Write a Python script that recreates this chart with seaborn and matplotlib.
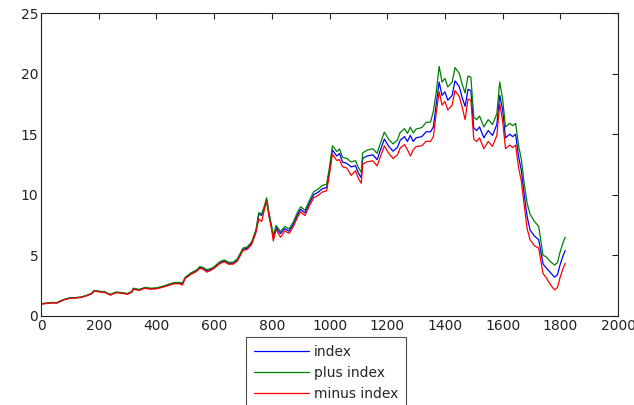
import matplotlib
matplotlib.use("Agg")
import matplotlib.pyplot as plt
import seaborn as sns
import pandas as pd

x_vals = [0, 20, 40, 55, 60, 80, 100, 120, 140, 160, 175, 185, 200, 220, 240, 250, 260, 280, 300,
          315, 320, 340, 360, 380, 400, 420, 440, 460, 480, 490, 500, 520, 540, 550, 560, 575, 590,
          600, 620, 635, 650, 665, 680, 700, 715, 730, 745, 755, 765, 775, 782, 790, 800, 805, 815,
          830, 845, 860, 875, 890, 900, 915, 930, 945, 960, 975, 990, 1000, 1010, 1025, 1035, 1045,
          1060, 1075, 1090, 1100, 1110, 1115, 1130, 1150, 1165, 1175, 1190, 1205, 1220, 1235, 1245,
          1260, 1270, 1280, 1290, 1300, 1320, 1335, 1350, 1360, 1370, 1380, 1390, 1400, 1410, 1425,
          1435, 1450, 1460, 1470, 1480, 1490, 1500, 1510, 1520, 1535, 1550, 1565, 1580, 1590, 1600,
          1610, 1625, 1635, 1645, 1655, 1665, 1675, 1685, 1695, 1710, 1725, 1740, 1750, 1765, 1780,
          1790, 1800, 1810, 1817]

index_vals = [1.00, 1.05, 1.10, 1.08, 1.15, 1.35, 1.48, 1.50, 1.55, 1.70, 1.85, 2.08, 2.02, 1.98, 1.75,
              1.85, 1.95, 1.90, 1.82, 2.00, 2.25, 2.15, 2.32, 2.25, 2.28, 2.40, 2.55, 2.70, 2.72, 2.65,
              3.15, 3.50, 3.75, 4.00, 3.95, 3.75, 3.85, 4.00, 4.40, 4.55, 4.35, 4.35, 4.60, 5.50, 5.60,
              6.00, 7.00, 8.40, 8.30, 9.00, 9.60, 8.40, 7.20, 6.50, 7.30, 6.80, 7.20, 7.00, 7.60, 8.40,
              8.80, 8.50, 9.30, 10.00, 10.20, 10.50, 10.60, 12.00, 13.70, 13.20, 13.40, 12.70, 12.60,
              12.30, 12.40, 11.80, 11.40, 13.00, 13.20, 13.30, 12.90, 13.60, 14.60, 14.00, 13.60, 13.90,
              14.50, 14.80, 14.40, 14.90, 14.40, 14.70, 14.80, 15.20, 15.20, 15.60, 17.50, 19.30, 18.20,
              18.50, 17.80, 18.20, 19.40, 18.90, 18.00, 17.30, 18.70, 18.60, 15.50, 15.30, 15.60, 14.70,
              15.30, 14.90, 15.80, 18.20, 17.00, 14.70, 15.00, 14.80, 15.00, 13.20, 12.00, 10.00, 8.20,
              7.10, 6.60, 6.30, 4.30, 4.00, 3.60, 3.20, 3.40, 4.30, 5.00, 5.40]

plus_vals = [1.02, 1.07, 1.12, 1.10, 1.17, 1.37, 1.50, 1.52, 1.57, 1.72, 1.88, 2.11, 2.05, 2.01, 1.78,
             1.88, 1.98, 1.93, 1.85, 2.04, 2.29, 2.19, 2.36, 2.29, 2.32, 2.44, 2.60, 2.75, 2.77, 2.70,
             3.20, 3.56, 3.81, 4.07, 4.02, 3.82, 3.92, 4.07, 4.48, 4.63, 4.43, 4.43, 4.69, 5.60, 5.70,
             6.11, 7.12, 8.53, 8.43, 9.14, 9.75, 8.55, 7.36, 6.66, 7.47, 6.97, 7.38, 7.18, 7.79, 8.60,
             9.01, 8.72, 9.53, 10.25, 10.46, 10.77, 10.88, 12.30, 14.05, 13.57, 13.78, 13.09, 13.00,
             12.71, 12.82, 12.24, 11.85, 13.46, 13.68, 13.80, 13.42, 14.14, 15.17, 14.58, 14.20, 14.52,
             15.14, 15.46, 15.07, 15.58, 15.10, 15.42, 15.55, 15.98, 16.00, 16.90, 18.50, 20.60, 19.30,
             19.60, 18.90, 19.30, 20.50, 20.00, 19.10, 18.40, 19.80, 19.70, 16.40, 16.20, 16.50, 15.60,
             16.20, 15.80, 16.70, 19.30, 17.90, 15.60, 15.90, 15.70, 15.90, 14.10, 12.90, 10.90, 9.30,
             8.40, 7.80, 7.40, 5.00, 4.90, 4.50, 4.20, 4.40, 5.35, 6.10, 6.50]

minus_vals = [0.98, 1.03, 1.08, 1.06, 1.13, 1.33, 1.46, 1.48, 1.53, 1.68, 1.82, 2.05, 1.99, 1.95, 1.72,
              1.82, 1.92, 1.87, 1.79, 1.96, 2.21, 2.11, 2.28, 2.21, 2.24, 2.36, 2.50, 2.65, 2.67, 2.55,
              3.10, 3.44, 3.69, 3.93, 3.88, 3.62, 3.78, 3.93, 4.32, 4.47, 4.27, 4.27, 4.51, 5.40, 5.50,
              5.89, 6.88, 8.00, 7.80, 8.86, 9.45, 8.25, 7.04, 6.20, 7.13, 6.50, 7.02, 6.82, 7.41, 8.20,
              8.59, 8.28, 9.07, 9.75, 9.94, 10.23, 10.32, 11.70, 13.35, 12.83, 12.90, 12.31, 12.20,
              11.60, 11.98, 11.36, 10.95, 12.54, 12.72, 12.80, 12.38, 13.06, 14.03, 13.42, 13.00, 13.28,
              13.86, 14.14, 13.73, 13.20, 13.70, 13.98, 14.05, 14.42, 14.40, 14.80, 16.80, 18.50, 17.40,
              17.70, 17.00, 17.40, 18.60, 18.10, 17.20, 16.20, 17.90, 17.80, 14.60, 14.40, 14.70, 13.80,
              14.40, 14.00, 14.90, 17.50, 16.10, 13.80, 14.10, 13.90, 14.10, 12.30, 11.10, 9.10, 7.20,
              6.30, 5.80, 5.60, 3.50, 3.20, 2.60, 2.15, 2.35, 3.25, 3.95, 4.35]

series_names = ["index", "plus index", "minus index"]
series_colors = ["#0000ff", "#008000", "#ff0000"]

df = pd.concat([
    pd.DataFrame({"x": x_vals, "y": index_vals, "series": series_names[0]}),
    pd.DataFrame({"x": x_vals, "y": plus_vals, "series": series_names[1]}),
    pd.DataFrame({"x": x_vals, "y": minus_vals, "series": series_names[2]}),
], ignore_index=True)

sns.set_style("white")
plt.rcParams["font.family"] = ["DejaVu Sans"]

fig = plt.figure(figsize=(6.34, 4.05), dpi=100)
ax = fig.add_axes([0.0647, 0.2198, 0.9748 - 0.0647, 0.9679 - 0.2198])

sns.lineplot(data=df, x="x", y="y", hue="series", hue_order=series_names,
             palette=dict(zip(series_names, series_colors)), linewidth=0.9,
             estimator=None, sort=False, ax=ax, legend=False)

ax.set_xlim(0, 2000)
ax.set_ylim(0, 25)
ax.set_xticks(range(0, 2001, 200))
ax.set_yticks(range(0, 26, 5))
ax.set_xlabel("")
ax.set_ylabel("")
ax.tick_params(direction="in", length=4, width=0.8, top=True, right=True,
               labelsize=10, colors="#222222", pad=2)
for s in ax.spines.values():
    s.set_visible(True)
    s.set_color("#222222")
    s.set_linewidth(0.8)

handles = [plt.Line2D([], [], color=c, linewidth=0.9) for c in series_colors]
leg = fig.legend(handles, series_names, loc="upper left",
                 bbox_to_anchor=(246 / 634, 1 - 337 / 405), frameon=True,
                 fancybox=False, fontsize=10, handlelength=4.0, handletextpad=0.35,
                 labelspacing=0.5, borderpad=0.55, borderaxespad=0)
leg.get_frame().set_edgecolor("#222222")
leg.get_frame().set_linewidth(0.8)

fig.savefig("out.png", dpi=100, facecolor="white")
